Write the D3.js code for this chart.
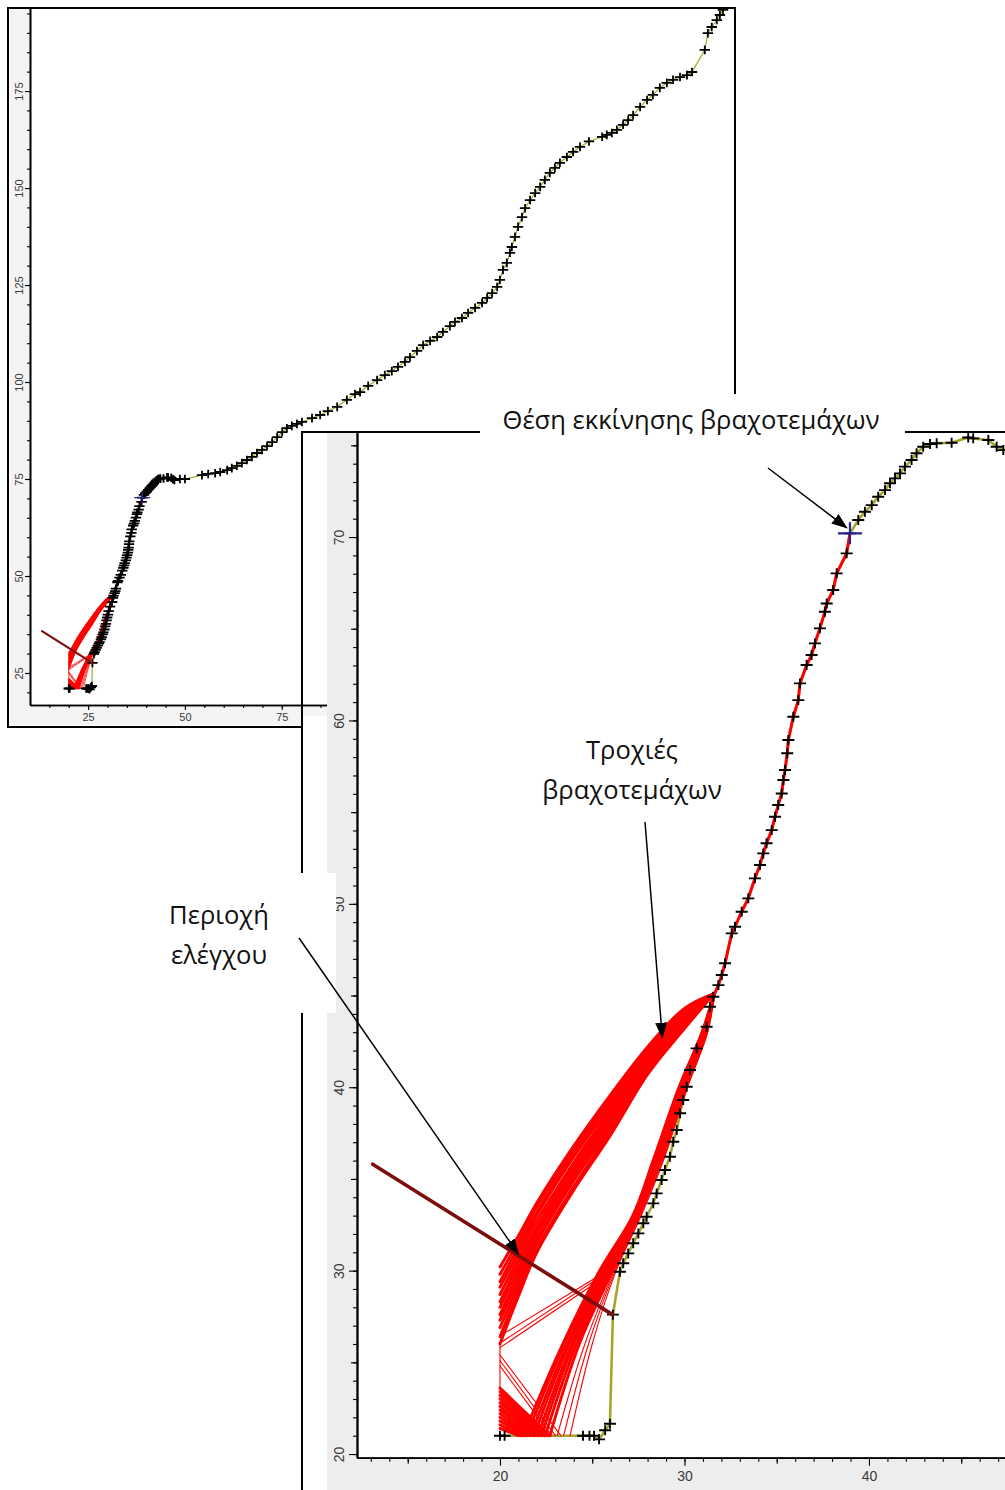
<!DOCTYPE html>
<html>
<head>
<meta charset="utf-8">
<script src="https://cdn.jsdelivr.net/npm/d3@7"></script>
<style>
  html, body { margin: 0; padding: 0; background: #fff; }
  svg { display: block; }
</style>
</head>
<body>
<svg id="chart" width="1005" height="1490"></svg>
<script>
// ---------------- slope profile (x, elevation in m) ----------------
const toeProfile = [[20.0,21.0],[20.25,21.0],[24.5,21.0],[24.85,21.0],[25.1,21.0],[25.37,20.8],[25.7,21.3],[25.96,21.65],[26.12,27.6]];
const slopeProfile = [[26.5,29.94],[26.68,30.40],[26.95,30.94],[27.22,31.49],[27.50,32.03],[27.77,32.58],[27.95,32.94],[28.31,33.67],[28.49,34.21],[28.76,34.94],[28.94,35.49],[29.21,36.21],[29.39,37.03],[29.58,37.67],[29.76,38.58],[29.93,39.30],[30.12,40.03],[30.30,40.94],[30.66,42.12],[31.20,43.30],[31.38,44.39],[31.56,44.93],[31.84,45.57],[32.02,46.12],[32.20,46.76],[32.56,48.39],[32.74,48.75],[33.10,49.57],[33.46,50.30],[33.82,51.39],[34.09,52.12],[34.27,52.75],[34.45,53.30],[34.73,54.02],[34.91,54.75],[35.08,55.39],[35.27,56.02],[35.36,56.75],[35.45,57.30],[35.57,58.21],[35.63,58.93],[35.90,60.20],[36.17,61.11],[36.26,62.02],[36.62,63.02],[36.89,63.57],[37.07,64.20],[37.34,65.02],[37.61,65.93],[37.71,66.38],[38.06,67.11],[38.25,68.02],[38.79,69.11],[38.97,70.20]];
const crestProfile = [[39.42,70.93],[39.78,71.38],[40.15,71.74],[40.50,72.20],[40.87,72.56],[41.14,72.93],[41.41,73.20],[41.68,73.47],[41.95,73.84],[42.31,74.20],[42.58,74.57],[42.94,74.92],[43.31,75.07],[43.67,75.11],[44.48,75.14],[45.38,75.43],[45.65,75.38],[46.47,75.29],[46.92,74.92],[47.28,74.74]];
const upperProfile = [[48.7,75.0],[50.0,75.0],[54.4,76.0],[56.0,76.3],[57.8,76.5],[59.1,76.8],[60.9,77.3],[62.1,77.8],[63.4,78.4],[64.7,79.1],[66.0,79.9],[67.3,80.7],[68.6,81.7],[69.9,82.5],[71.2,83.5],[72.5,84.5],[73.8,85.8],[75.1,87.1],[76.3,88.1],[77.6,88.7],[78.9,89.2],[80.2,89.7],[82.8,90.7],[84.9,91.5],[86.9,92.5],[89.3,93.6],[91.8,95.4],[93.9,96.9],[95.2,97.4],[97.3,99.0],[99.6,100.5],[101.6,101.8],[103.4,102.8],[105.0,103.9],[106.8,105.2],[108.1,106.4],[109.9,108.0],[111.5,109.5],[113.3,110.6],[115.1,111.6],[116.6,112.9],[118.4,114.4],[119.7,115.5],[121.5,116.5],[123.1,117.8],[124.9,119.1],[126.7,120.4],[128.0,121.7],[129.3,122.9],[130.6,124.5],[131.3,126.3],[132.1,128.9],[133.1,130.7],[133.9,133.3],[134.4,134.8],[135.2,137.4],[136.0,140.0],[137.0,142.5],[137.8,144.8],[139.1,146.9],[140.4,148.7],[141.7,150.3],[142.9,152.1],[144.2,153.9],[145.5,155.2],[146.8,156.5],[148.6,158.0],[150.2,159.3],[152.0,160.6],[154.3,162.0],[157.7,163.2],[158.9,163.7],[160.2,164.2],[161.5,165.0],[163.1,166.3],[164.4,167.5],[165.7,168.8],[167.5,170.9],[169.3,172.7],[170.8,174.0],[172.6,175.8],[174.4,177.1],[176.0,177.9],[177.8,178.6],[179.6,179.1],[180.9,179.9],[184.2,185.6],[185.0,189.9],[186.0,191.5],[187.3,193.3],[188.1,194.6],[188.9,195.9],[189.7,197.2]];

// release point of the rock fragments and the collector line
const startPoint = [38.97, 70.2];
const barrierLine = [[13.1,35.8],[26.1,27.6]];
const takeoff = [31.6, 45.1];

// long flights towards the left wall: elevations at these x stations
const stationsA = [31.6, 30, 28, 26, 24, 22, 21, 20];
const flightsA = [
  [45.1,44.3,42.2,39.6,36.8,33.7,31.9,30.2],
  [45.1,44.2,42.1,39.4,36.6,33.5,31.6,29.8],
  [45.1,44.1,41.9,39.2,36.4,33.2,31.3,29.4],
  [45.1,44.0,41.8,39.0,36.2,33.0,31.0,29.1],
  [45.1,43.9,41.7,38.8,35.9,32.7,30.7,28.7],
  [45.1,43.8,41.5,38.6,35.7,32.4,30.4,28.3],
  [45.1,43.7,41.4,38.4,35.5,32.2,30.1,28.0],
  [45.1,43.6,41.3,38.2,35.3,32.0,29.8,27.6],
  [45.1,43.5,41.1,38.0,35.1,31.7,29.5,27.3],
  [45.1,43.4,41.0,37.8,34.9,31.5,29.2,26.9],
  [45.1,43.3,40.8,37.6,34.6,31.2,28.9,26.4],
  [45.1,43.2,40.7,37.4,34.4,31.0,28.6,26.0]
];
// short flights down to the toe: x positions at these elevation stations
const stationsB = [45.1, 43.0, 40.0, 36.0, 33.0, 30.0, 26.0, 21.0];
const flightsB = [
  [31.6,30.95,29.70,28.30,27.20,25.40,23.40,21.25],
  [31.6,30.98,29.75,28.35,27.25,25.50,23.50,21.45],
  [31.6,31.00,29.80,28.40,27.30,25.60,23.65,21.65],
  [31.6,31.05,29.85,28.45,27.35,25.70,23.75,21.85],
  [31.6,31.08,29.90,28.50,27.40,25.80,23.90,22.05],
  [31.6,31.10,29.95,28.55,27.42,25.90,24.00,22.25],
  [31.6,31.15,30.00,28.60,27.46,26.00,24.15,22.45],
  [31.6,31.20,30.10,28.70,27.50,26.10,24.30,22.70]
];
const flightsBThin = [
  [31.6,31.22,30.12,28.78,27.58,26.20,24.60,23.10],
  [31.6,31.24,30.14,28.82,27.62,26.25,24.80,23.45],
  [31.6,31.26,30.16,28.86,27.66,26.30,25.00,23.80]
];
// run-out from the wall to the ground: [wall elevation, landing x]
const wallRunout = [[23.6,22.7],[23.4,22.55],[23.2,22.4],[23.0,22.25],[22.8,22.1],[22.6,21.95],[22.4,21.8],[22.2,21.6],[22.0,21.45],[21.8,21.3],[21.6,21.15],[21.4,21.0]];
const wallScatter = [[25.4,23.3],[25.1,23.0],[24.8,22.8]];
const wallToStep = [[[20.0,26.05],[25.8,29.9]],[[20.0,25.8],[25.8,29.75]],[[20.1,26.5],[25.9,30.05]]];
const wallStrip = [[20.0,26.0],[20.0,23.5]];

// axis tick labels
const ovXLabels = [25, 50, 75, 100, 125, 150, 175];
const ovYLabels = [25, 50, 75, 100, 125, 150, 175];
const zmXLabels = [20, 30, 40];
const zmYLabels = [20, 30, 40, 50, 60, 70];

// annotation texts
const labelStart = "Θέση εκκίνησης βραχοτεμάχων";
const labelPaths = ["Τροχιές", "βραχοτεμάχων"];
const labelZone = ["Περιοχή", "ελέγχου"];

// ---------------- drawing ----------------
const profile = [...toeProfile, ...slopeProfile, ...crestProfile, ...upperProfile];
const rollPath = [takeoff, ...slopeProfile.filter(p => p[0] >= 31.5)];
const trajA = flightsA.map(r => stationsA.map((x, i) => [x, r[i]]));
const trajB = flightsB.map(r => stationsB.map((y, i) => [r[i], y]));
const trajBThin = flightsBThin.map(r => stationsB.map((y, i) => [r[i], y]));

const OLIVE = "#a5a52a";
const RED = "#ff0000";
const axisFont = "'Liberation Sans', Arial, sans-serif";
const annFont = "'Open Sans', 'Noto Sans', sans-serif";

const svg = d3.select("#chart");
const defs = svg.append("defs");

function cross(cx, cy, hw, hh) {
  return `M${cx - hw},${cy}H${cx + hw}M${cx},${cy - hh}V${cy + hh}`;
}

function drawContent(g, x, y, st) {
  const line = d3.line().x(d => x(d[0])).y(d => y(d[1]));
  const smooth = d3.line().x(d => x(d[0])).y(d => y(d[1])).curve(d3.curveCatmullRom.alpha(0.5));

  g.append("path").datum(profile).attr("d", line)
    .attr("fill", "none").attr("stroke", OLIVE).attr("stroke-width", st.ground);

  const red = g.append("g").attr("fill", "none").attr("stroke", RED)
    .attr("stroke-linejoin", "round").attr("stroke-linecap", "round");
  red.append("path").datum(rollPath).attr("d", line).attr("stroke-width", st.roll);
  red.selectAll("path.a").data(trajA).join("path").attr("class", "a")
    .attr("d", smooth).attr("stroke-width", st.band);
  red.append("path").datum(wallStrip).attr("d", line).attr("stroke-width", st.thin);
  red.selectAll("path.w").data(wallRunout).join("path").attr("class", "w")
    .attr("d", d => line([[20.0, d[0]], [d[1], 21.0]])).attr("stroke-width", st.band);
  red.selectAll("path.s").data(wallScatter).join("path").attr("class", "s")
    .attr("d", d => line([[20.0, d[0]], [d[1], 21.0]])).attr("stroke-width", st.thin);
  red.selectAll("path.r").data(wallToStep).join("path").attr("class", "r")
    .attr("d", line).attr("stroke-width", st.thin);
  red.selectAll("path.b").data(trajB).join("path").attr("class", "b")
    .attr("d", smooth).attr("stroke-width", st.band);
  red.selectAll("path.bt").data(trajBThin).join("path").attr("class", "bt")
    .attr("d", smooth).attr("stroke-width", st.thin);

  g.append("g").selectAll("path").data(profile).join("path")
    .attr("d", d => cross(x(d[0]), y(d[1]), st.mkW, st.mkH))
    .attr("stroke", "#000").attr("stroke-width", st.mkStroke).attr("fill", "none");

  g.append("path").datum(barrierLine).attr("d", line)
    .attr("fill", "none").attr("stroke", "#7e0d0d").attr("stroke-width", st.barrier)
    .attr("stroke-linecap", "round");

  g.append("path").attr("d", cross(x(startPoint[0]), y(startPoint[1]), st.stW, st.stH))
    .attr("stroke", "#25258e").attr("stroke-width", st.stStroke).attr("fill", "none");
}

function styleAxis(g, size) {
  g.selectAll(".domain").attr("stroke", "#000").attr("stroke-width", 1.6);
  g.selectAll(".tick line").attr("stroke", "#000").attr("stroke-width", 1.1);
  g.selectAll("text").attr("font-family", axisFont).attr("font-size", size).attr("fill", "#3a3a3a");
}

function rotateYLabels(g, offset) {
  g.selectAll(".tick text")
    .attr("x", null).attr("dy", null).attr("y", null)
    .attr("text-anchor", "middle")
    .attr("transform", `translate(${-offset},0) rotate(-90)`);
}

// ---------- overview panel ----------
const ov = { left: 30, right: 735, top: 8, bottom: 705 };
const xO = d3.scaleLinear().domain([10, 192]).range([ov.left, ov.right]);
const yO = d3.scaleLinear().domain([16.75, 196.4]).range([ov.bottom, ov.top]);

defs.append("clipPath").attr("id", "clipO").append("rect")
  .attr("x", ov.left).attr("y", ov.top).attr("width", ov.right - ov.left).attr("height", ov.bottom - ov.top);

const gO = svg.append("g");
gO.append("rect").attr("x", 8).attr("y", 8).attr("width", 727).attr("height", 719).attr("fill", "#fff");
gO.append("rect").attr("x", 10).attr("y", 8).attr("width", ov.left - 10).attr("height", 717).attr("fill", "#f4f4f4");
gO.append("rect").attr("x", 10).attr("y", ov.bottom).attr("width", 725).attr("height", 20).attr("fill", "#f4f4f4");

drawContent(gO.append("g").attr("clip-path", "url(#clipO)"), xO, yO, {
  ground: 1.2, roll: 2.0, band: 1.3, thin: 0.7, barrier: 2.2,
  mkW: 5.2, mkH: 4.3, mkStroke: 1.8, stW: 8, stH: 6, stStroke: 1.3
});

const oxMinor = gO.append("g").attr("transform", `translate(0,${ov.bottom})`)
  .call(d3.axisBottom(xO).tickValues(d3.range(15, 192, 5)).tickSize(3).tickSizeOuter(0).tickFormat(""));
styleAxis(oxMinor, 11);
const oxMajor = gO.append("g").attr("transform", `translate(0,${ov.bottom})`)
  .call(d3.axisBottom(xO).tickValues(ovXLabels).tickSize(5).tickSizeOuter(0).tickPadding(3));
styleAxis(oxMajor, 11);

const oyMinor = gO.append("g").attr("transform", `translate(${ov.left},0)`)
  .call(d3.axisLeft(yO).tickValues(d3.range(20, 196, 5)).tickSize(3).tickSizeOuter(0).tickFormat(""));
styleAxis(oyMinor, 11);
const oyMajor = gO.append("g").attr("transform", `translate(${ov.left},0)`)
  .call(d3.axisLeft(yO).tickValues(ovYLabels).tickSize(5).tickSizeOuter(0));
styleAxis(oyMajor, 11);
rotateYLabels(oyMajor, 7);

gO.append("rect").attr("x", 8).attr("y", 8).attr("width", 727).attr("height", 719)
  .attr("fill", "none").attr("stroke", "#000").attr("stroke-width", 2);

// ---------- detail panel ----------
const zm = { left: 357, right: 1005.5, top: 432.5, bottom: 1457.7 };
const xZ = d3.scaleLinear().domain([12.25, 47.4]).range([zm.left, zm.right]);
const yZ = d3.scaleLinear().domain([19.8, 75.7]).range([zm.bottom, zm.top]);

defs.append("clipPath").attr("id", "clipZ").append("rect")
  .attr("x", zm.left).attr("y", 432).attr("width", 1005 - zm.left).attr("height", zm.bottom - 432);

const gZ = svg.append("g");
gZ.append("rect").attr("x", 327).attr("y", 432).attr("width", 680).attr("height", 1060).attr("fill", "#fff");
gZ.append("rect").attr("x", 302).attr("y", 716).attr("width", 30).attr("height", 776).attr("fill", "#fff");
gZ.append("rect").attr("x", 327).attr("y", 432).attr("width", zm.left - 327).attr("height", 1060).attr("fill", "#ededed");
gZ.append("rect").attr("x", 327).attr("y", zm.bottom).attr("width", 680).attr("height", 40).attr("fill", "#ededed");

drawContent(gZ.append("g").attr("clip-path", "url(#clipZ)"), xZ, yZ, {
  ground: 2.6, roll: 3, band: 2.9, thin: 1.1, barrier: 3.6,
  mkW: 6, mkH: 5, mkStroke: 1.9, stW: 12, stH: 11, stStroke: 2.2
});

const zxMinor = gZ.append("g").attr("transform", `translate(0,${zm.bottom})`)
  .call(d3.axisBottom(xZ).tickValues(d3.range(13, 48, 1)).tickSize(4).tickSizeOuter(0).tickFormat(""));
styleAxis(zxMinor, 14);
const zxMid = gZ.append("g").attr("transform", `translate(0,${zm.bottom})`)
  .call(d3.axisBottom(xZ).tickValues([15, 25, 35, 45]).tickSize(6).tickSizeOuter(0).tickFormat(""));
styleAxis(zxMid, 14);
const zxMajor = gZ.append("g").attr("transform", `translate(0,${zm.bottom})`)
  .call(d3.axisBottom(xZ).tickValues(zmXLabels).tickSize(8).tickSizeOuter(0).tickPadding(5));
styleAxis(zxMajor, 14);

const zyMinor = gZ.append("g").attr("transform", `translate(${zm.left},0)`)
  .call(d3.axisLeft(yZ).tickValues(d3.range(20, 76, 1)).tickSize(4).tickSizeOuter(0).tickFormat(""));
styleAxis(zyMinor, 14);
const zyMid = gZ.append("g").attr("transform", `translate(${zm.left},0)`)
  .call(d3.axisLeft(yZ).tickValues([25, 35, 45, 55, 65, 75]).tickSize(6).tickSizeOuter(0).tickFormat(""));
styleAxis(zyMid, 14);
const zyMajor = gZ.append("g").attr("transform", `translate(${zm.left},0)`)
  .call(d3.axisLeft(yZ).tickValues(zmYLabels).tickSize(8).tickSizeOuter(0));
styleAxis(zyMajor, 14);
rotateYLabels(zyMajor, 13);

gZ.append("path").attr("d", "M302,1492V432H1007")
  .attr("fill", "none").attr("stroke", "#000").attr("stroke-width", 2);

// ---------- annotations ----------
const probe = svg.append("text").attr("font-family", annFont).attr("font-size", 20).text(labelStart);
const annSize = 20 * 377 / probe.node().getComputedTextLength();
probe.remove();

const gA = svg.append("g");
gA.append("rect").attr("x", 480).attr("y", 394).attr("width", 425).attr("height", 54).attr("fill", "#fff");
gA.append("rect").attr("x", 150).attr("y", 873).attr("width", 186).attr("height", 140).attr("fill", "#fff");

function addText(str, cx, baseline) {
  gA.append("text").attr("x", cx).attr("y", baseline)
    .attr("text-anchor", "middle").attr("font-family", annFont)
    .attr("font-size", annSize).attr("fill", "#111").text(str);
}
addText(labelStart, 691, 429);
addText(labelPaths[0], 632, 759);
addText(labelPaths[1], 632, 799);
addText(labelZone[0], 219, 924);
addText(labelZone[1], 219, 964);

defs.append("marker").attr("id", "head").attr("markerUnits", "userSpaceOnUse")
  .attr("viewBox", "0 0 16 12").attr("markerWidth", 16).attr("markerHeight", 12)
  .attr("refX", 15).attr("refY", 6).attr("orient", "auto")
  .append("path").attr("d", "M0,0L16,6L0,12Z").attr("fill", "#000");

const arrows = [
  { from: [768, 468], to: [38.8, 70.5] },
  { from: [645, 822], to: [28.8, 42.7] },
  { from: [299, 938], to: [21.0, 30.9] }
];
gA.selectAll("line.arrow").data(arrows).join("line").attr("class", "arrow")
  .attr("x1", d => d.from[0]).attr("y1", d => d.from[1])
  .attr("x2", d => xZ(d.to[0])).attr("y2", d => yZ(d.to[1]))
  .attr("stroke", "#000").attr("stroke-width", 1.5).attr("marker-end", "url(#head)");
</script>
</body>
</html>
